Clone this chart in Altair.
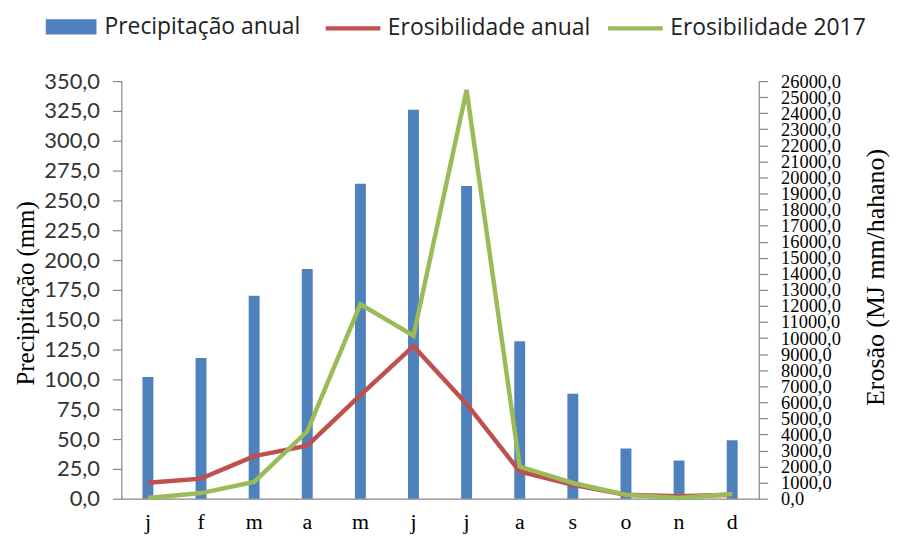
import altair as alt
import pandas as pd

meses = ["jan", "fev", "mar", "abr", "mai", "jun", "jul", "ago", "set", "out", "nov", "dez"]
precipitacao = [102, 118, 170, 192.5, 264, 326, 262, 132, 88, 42, 32, 49]
erosiv_anual = [1000, 1250, 2650, 3300, 6450, 9500, 5900, 1700, 870, 250, 150, 250]
erosiv_2017 = [50, 350, 1050, 4200, 12100, 10150, 25450, 2000, 980, 250, 40, 300]

serie_bar = "Precipitação anual"
serie_lin = ["Erosibilidade anual", "Erosibilidade 2017"]
left_ticks = [i * 25 for i in range(15)]
right_ticks = [i * 1000 for i in range(27)]

bars = pd.DataFrame({"mes": meses, "valor": precipitacao, "serie": serie_bar})
lines = pd.concat([
    pd.DataFrame({"mes": meses, "valor": erosiv_anual, "serie": serie_lin[0], "ord": 0}),
    pd.DataFrame({"mes": meses, "valor": erosiv_2017, "serie": serie_lin[1], "ord": 1}),
])

AXIS_GREY = "#868686"
x_enc = alt.X(
    "mes:N", sort=meses,
    scale=alt.Scale(paddingInner=0, paddingOuter=0),
    axis=alt.Axis(title=None, labelExpr="substring(datum.label,0,1)", labelAngle=0,
                  ticks=False, domainColor=AXIS_GREY, domainWidth=1.2,
                  labelFont="Liberation Serif", labelFontSize=22, labelColor="#000",
                  labelPadding=13, grid=False),
)

bar = alt.Chart(bars).mark_bar(size=11).encode(
    x=x_enc,
    y=alt.Y("valor:Q", scale=alt.Scale(domain=[0, 350], nice=False),
            axis=alt.Axis(title="Precipitação (mm)", values=left_ticks, grid=False,
                          labelExpr="replace(format(datum.value,'.1f'),'.',',')",
                          labelFont="Lato", labelFontSize=22, labelColor="#333",
                          tickSize=9, tickColor=AXIS_GREY, domainColor=AXIS_GREY,
                          labelPadding=13,
                          titleFont="Liberation Serif", titleFontSize=25, titleFontWeight="normal",
                          titleColor="#000", titleX=-88, titleY=213, titleAngle=270,
                          titleBaseline="alphabetic")),
    fill=alt.Fill("serie:N", scale=alt.Scale(domain=[serie_bar], range=["#4F81BD"]),
                  legend=alt.Legend(orient="none", legendX=-76, legendY=-80, direction="horizontal",
                                    title=None, symbolType="M-1,-0.3H1V0.3H-1Z", symbolSize=2601,
                                    symbolStrokeWidth=0, labelFont="Open Sans", labelFontSize=23,
                                    labelColor="#222", labelOffset=8, padding=0, labelLimit=400)),
)

line = alt.Chart(lines).mark_line(strokeWidth=4.5).encode(
    x=x_enc,
    y=alt.Y("valor:Q", scale=alt.Scale(domain=[0, 26000], nice=False),
            axis=alt.Axis(orient="right", title="Erosão (MJ mm/hahano)", values=right_ticks, grid=False,
                          labelExpr="replace(format(datum.value,'.1f'),'.',',')",
                          labelFont="Liberation Serif", labelFontSize=18.5, labelColor="#000",
                          tickSize=9, tickColor=AXIS_GREY, domainColor=AXIS_GREY,
                          labelPadding=13, labelOverlap=False,
                          titleFont="Liberation Serif", titleFontSize=26, titleFontWeight="normal",
                          titleColor="#000", titleX=125, titleY=197, titleAngle=270,
                          titleBaseline="alphabetic")),
    stroke=alt.Stroke("serie:N", sort=serie_lin,
                      scale=alt.Scale(domain=serie_lin, range=["#C0504D", "#9BBB59"]),
                      legend=alt.Legend(orient="none", legendX=203, legendY=-83, direction="horizontal",
                                        title=None, symbolType="stroke", symbolSize=3025,
                                        symbolStrokeWidth=4.5, labelFont="Open Sans", labelFontSize=23,
                                        labelColor="#222", labelOffset=5, columnPadding=8,
                                        padding=0, labelLimit=400)),
    order=alt.Order("ord:Q"),
)

chart = alt.layer(bar, line).resolve_scale(y="independent").properties(
    width=641, height=420,
    autosize=alt.AutoSizeParams(type="none"),
    padding={"left": 114, "top": 72, "right": 132, "bottom": 36},
).configure_view(stroke=None).configure_axis(domainWidth=1.2, tickWidth=1.2)

chart.save("out.html", embed_options={"renderer": "svg", "actions": False})
